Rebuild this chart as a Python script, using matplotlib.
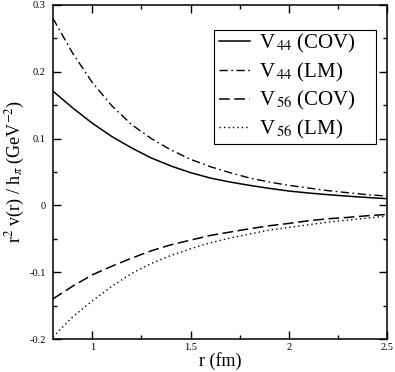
import numpy as np
import matplotlib
matplotlib.use("Agg")
import matplotlib.pyplot as plt
from matplotlib.ticker import MultipleLocator

plt.rcParams['font.family'] = ['Liberation Serif', 'DejaVu Serif']
plt.rcParams['mathtext.fontset'] = 'stix'

# values
r = [0.8, 0.9, 1.0, 1.1, 1.2, 1.3, 1.4, 1.5, 1.6, 1.7, 1.8, 1.9,
     2.0, 2.1, 2.2, 2.3, 2.4, 2.5]
v44_cov = [0.171, 0.146, 0.123, 0.103, 0.086, 0.071, 0.059, 0.049, 0.041,
           0.035, 0.030, 0.0255, 0.0215, 0.0185, 0.016, 0.0138, 0.0118, 0.0100]
v44_lm = [0.280, 0.228, 0.184, 0.149, 0.121, 0.100, 0.083, 0.069, 0.058,
          0.049, 0.041, 0.035, 0.030, 0.026, 0.022, 0.019, 0.016, 0.014]
v56_cov = [-0.140, -0.121, -0.104, -0.091, -0.079, -0.068, -0.059, -0.052,
           -0.045, -0.040, -0.035, -0.0305, -0.027, -0.023, -0.020, -0.018,
           -0.0155, -0.0135]
v56_lm = [-0.197, -0.167, -0.143, -0.121, -0.102, -0.087, -0.075, -0.065,
          -0.056, -0.049, -0.043, -0.037, -0.033, -0.029, -0.025, -0.022,
          -0.019, -0.016]

labels = [r'V$_{\,44}$ (COV)', r'V$_{\,44}$ (LM)', r'V$_{\,56}$ (COV)', r'V$_{\,56}$ (LM)']

fig = plt.figure(figsize=(3.95, 3.72), dpi=100)
ax = fig.add_axes([0.134, 0.0887, 0.846, 0.898])

ax.plot(r, v44_cov, color='k', lw=1.1, ls='-', label=labels[0])
ax.plot(r, v44_lm, color='k', lw=1.0, ls=(0, (6, 2.5, 1.2, 2.5)), label=labels[1])
ax.plot(r, v56_cov, color='k', lw=1.1, ls=(0, (7, 3)), label=labels[2])
ax.plot(r, v56_lm, color='k', lw=1.0, ls=(0, (1, 2.2)), label=labels[3])

ax.set_xlim(0.8, 2.5)
ax.set_ylim(-0.2, 0.3)
ax.xaxis.set_minor_locator(MultipleLocator(0.25))
ax.yaxis.set_minor_locator(MultipleLocator(0.05))
ax.set_xticks([1, 1.5, 2, 2.5])
ax.set_xticklabels(['1', '1.5', '2', '2.5'])
ax.set_yticks([-0.2, -0.1, 0, 0.1, 0.2, 0.3])
ax.set_yticklabels(['-0.2', '-0.1', '0', '0.1', '0.2', '0.3'])

ax.tick_params(which='both', direction='in', top=True, right=True, labelsize=7.5)
ax.tick_params(which='major', length=6, width=1.0)
ax.tick_params(which='minor', length=3, width=1.0)
ax.tick_params(axis='y', pad=5)
ax.tick_params(axis='x', pad=3)
for s in ax.spines.values():
    s.set_linewidth(1.1)

ax.set_xlabel('r (fm)', fontsize=13, labelpad=0)
ax.set_ylabel(r'r$^{2}$ v(r) / h$_{\pi}$ (GeV$^{-2}$)', fontsize=13, labelpad=2)

# legend without frame, the frame is drawn around it with extra room on the right
leg = ax.legend(loc='upper left', bbox_to_anchor=(0.497, 0.920), borderaxespad=0,
                fontsize=15, frameon=False,
                handlelength=1.5, handletextpad=0.4, labelspacing=0.28,
                borderpad=0.0)
fig.canvas.draw()
bb = leg.get_window_extent().transformed(ax.transAxes.inverted())
frame = plt.Rectangle((bb.x0 - 0.015, bb.y0 - 0.008), bb.width + 0.075, bb.height + 0.013,
                      transform=ax.transAxes, fill=False, edgecolor='k', lw=0.8,
                      zorder=5)
ax.add_patch(frame)

fig.savefig('out.png', dpi=100)
